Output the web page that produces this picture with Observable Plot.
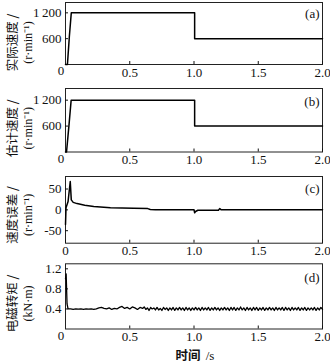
<!DOCTYPE html>
<html><head><meta charset="utf-8">
<script src="https://cdn.jsdelivr.net/npm/d3@7"></script>
<script src="https://cdn.jsdelivr.net/npm/@observablehq/plot@0.6"></script>
<style>
body{margin:0;background:#fff;}
#chart{position:relative;width:330px;height:363px;overflow:hidden;background:#fff;}
#chart > *{position:absolute;left:0;display:block;margin:0;}
</style></head><body><div id="chart"></div>
<script>
// ---- data ----
const actualT = [0, 0.015, 0.03, 0.045, 1.005, 1.005, 2.0];
const actualV = [0, 0, 650, 1200, 1200, 600, 600];

const estT = [0, 0.008, 0.028, 0.044, 1.005, 1.005, 2.0];
const estV = [0, 0, 650, 1200, 1200, 600, 600];

const errT = [0, 0.004, 0.02, 0.037, 0.045, 0.06, 0.09, 0.15, 0.22, 0.35, 0.53, 0.64, 0.66, 0.7, 0.9, 1.0, 1.005, 1.012, 1.03, 1.1, 1.19, 1.2, 1.21, 1.4, 1.7, 2.0];
const errV = [-35, 5, 20, 68, 24, 18, 15, 11, 8, 5, 4, 3, 1, 0.5, 0.5, 0.5, -7, -4, -1, -1, -1, 3, 0.5, 0.5, 0.5, 0.5];

const torqueT = [0, 0.005, 0.012,
  0.02,0.04,0.06,0.08,0.10,0.12,0.14,0.16,0.18,0.20,0.22,0.24,
  0.26,0.28,0.30,0.32,0.34,0.36,0.38,0.40,
  0.42,0.44,0.46,0.48,0.50,0.52,0.54,0.56,0.58,0.60,
  0.6125,0.625,0.6375,0.65,0.6625,0.675,0.6875,0.7,
  0.7125,0.725,0.7375,0.75,0.7625,0.775,0.7875,0.8,
  0.8125,0.825,0.8375,0.85,0.8625,0.875,0.8875,0.9,
  0.9125,0.925,0.9375,0.95,0.9625,0.975,0.9875,1.0,
  1.0125,1.025,1.0375,1.05,1.0625,1.075,1.0875,1.1,
  1.1125,1.125,1.1375,1.15,1.1625,1.175,1.1875,1.2,
  1.2125,1.225,1.2375,1.25,1.2625,1.275,1.2875,1.3,
  1.3125,1.325,1.3375,1.35,1.3625,1.375,1.3875,1.4,
  1.4125,1.425,1.4375,1.45,1.4625,1.475,1.4875,1.5,
  1.5125,1.525,1.5375,1.55,1.5625,1.575,1.5875,1.6,
  1.6125,1.625,1.6375,1.65,1.6625,1.675,1.6875,1.7,
  1.7125,1.725,1.7375,1.75,1.7625,1.775,1.7875,1.8,
  1.8125,1.825,1.8375,1.85,1.8625,1.875,1.8875,1.9,
  1.9125,1.925,1.9375,1.95,1.9625,1.975,1.9875,2.0];
const torqueV = [1.0, 1.1, 0.5,
  0.40,0.40,0.39,0.40,0.395,0.40,0.39,0.40,0.395,0.40,0.39,0.40,
  0.42,0.43,0.41,0.40,0.42,0.39,0.41,0.40,
  0.43,0.45,0.41,0.43,0.40,0.44,0.42,0.39,0.43,0.41,
  0.44,0.39,0.42,0.37,0.43,0.40,0.42,0.38,
  0.43,0.38,0.41,0.37,0.43,0.39,0.42,0.37,
  0.42,0.38,0.43,0.37,0.42,0.38,0.43,0.38,
  0.42,0.37,0.43,0.38,0.42,0.37,0.42,0.38,
  0.43,0.38,0.42,0.37,0.43,0.38,0.42,0.38,
  0.43,0.37,0.42,0.38,0.43,0.38,0.42,0.37,
  0.42,0.38,0.43,0.38,0.42,0.37,0.43,0.38,
  0.43,0.37,0.42,0.38,0.44,0.38,0.42,0.37,
  0.43,0.38,0.42,0.37,0.43,0.38,0.43,0.37,
  0.42,0.38,0.43,0.37,0.42,0.38,0.43,0.38,
  0.42,0.37,0.43,0.38,0.42,0.38,0.43,0.37,
  0.43,0.38,0.42,0.37,0.43,0.38,0.42,0.38,
  0.43,0.37,0.42,0.38,0.43,0.37,0.42,0.38,
  0.42,0.38,0.43,0.37,0.42,0.38,0.43,0.39];

const xTicksFull = [0, 0.5, 1.0, 1.5, 2.0];
const xTicksNoZero = [0.5, 1.0, 1.5, 2.0];
const speedTicks = [600, 1200];
const errTicks = [-50, 0, 50];
const torqueTicks = [0.4, 0.8, 1.2];

const titlesA = ["实际速度 /", "(r·min⁻¹)"];
const titlesB = ["估计速度 /", "(r·min⁻¹)"];
const titlesC = ["速度误差 /", "(r·min⁻¹)"];
const titlesD = ["电磁转矩 /", "(kN·m)"];
const tags = ["(a)", "(b)", "(c)", "(d)"];
const xTitle = ["时间", "/s"];

// ---- drawing ----
const SERIF = "'Liberation Serif','Times New Roman','Noto Sans CJK SC',serif";
const CJK = "'Noto Sans CJK SC','Liberation Serif',serif";
const fmtY = d => d === 1200 ? "1\u2009200" : String(d);
const fmtX = d => d === 0 ? "0" : d3.format(".1f")(d);

function zip(t, v) { return t.map((x, i) => ({t: x, v: v[i]})); }

function panel(o) {
  const marks = [
    Plot.frame({stroke: "#222", strokeWidth: 1}),
    Plot.axisX({ticks: o.xTicks, tickSize: -3, tickPadding: 6, tickFormat: fmtX, label: null}),
    Plot.axisY({ticks: o.yTicks, tickSize: -3, tickPadding: 7, tickFormat: fmtY, label: null}),
    Plot.line(zip(o.t, o.v), {x: "t", y: "v", stroke: "#000", strokeWidth: o.sw || 1.5, curve: "linear"}),
    Plot.text([o.tag], {frameAnchor: "top-right", dx: -3, dy: o.tagDy, textAnchor: "end", lineAnchor: "middle", fontSize: 13}),
    Plot.text([o.titles[0]], {frameAnchor: "left", dx: -52.5, dy: o.titleDy, rotate: -90, textAnchor: "middle", lineAnchor: "middle", fontFamily: CJK, fontSize: 12.5}),
    Plot.text([o.titles[1]], {frameAnchor: "left", dx: -37, dy: o.titleDy, rotate: -90, textAnchor: "middle", lineAnchor: "middle", fontSize: 12})
  ];
  if (o.cornerZero) marks.push(Plot.text([0], {x: 0, y: o.yDomain[0], dx: -4.5, dy: 6.5, text: d => "0", fontSize: 13}));
  if (o.extra) marks.push(...o.extra);
  const svg = Plot.plot({
    width: 330, height: o.height,
    marginLeft: 65, marginRight: 8, marginTop: o.mt, marginBottom: o.mb,
    style: {fontFamily: SERIF, fontSize: "13px", color: "#111", background: "transparent", overflow: "visible"},
    x: {domain: [0, 2]},
    y: {domain: o.yDomain},
    marks
  });
  svg.style.top = o.top + "px";
  svg.style.maxWidth = "none";
  svg.style.height = o.height + "px";
  return svg;
}

const root = document.getElementById("chart");
root.append(panel({top: 0, height: 87, mt: 2, mb: 23, t: actualT, v: actualV, yDomain: [0, 1440], yTicks: speedTicks, xTicks: xTicksNoZero, tag: tags[0], tagDy: 11, titles: titlesA, titleDy: 9, cornerZero: true}));
root.append(panel({top: 87, height: 88, mt: 1, mb: 23.5, t: estT, v: estV, yDomain: [0, 1470], yTicks: speedTicks, xTicks: xTicksNoZero, tag: tags[1], tagDy: 13, titles: titlesB, titleDy: 8, cornerZero: true}));
root.append(panel({top: 175, height: 87, mt: 1, mb: 19.3, t: errT, v: errV, yDomain: [-80, 80], yTicks: errTicks, xTicks: xTicksFull, tag: tags[2], tagDy: 12, titles: titlesC, titleDy: 5, cornerZero: false}));
root.append(panel({top: 262, height: 101, mt: 1.3, mb: 34.5, t: torqueT, v: torqueV, sw: 1.3, yDomain: [0, 1.3], yTicks: torqueTicks, xTicks: xTicksNoZero, tag: tags[3], tagDy: 14, titles: titlesD, titleDy: 7, cornerZero: true,
  extra: [
    Plot.text([xTitle[0]], {frameAnchor: "bottom", dx: -6, dy: 27, lineAnchor: "middle", fontFamily: CJK, fontWeight: "bold", fontSize: 12.5}),
    Plot.text([xTitle[1]], {frameAnchor: "bottom", dx: 16, dy: 27, lineAnchor: "middle", fontSize: 13})
  ]}));
</script></body></html>
